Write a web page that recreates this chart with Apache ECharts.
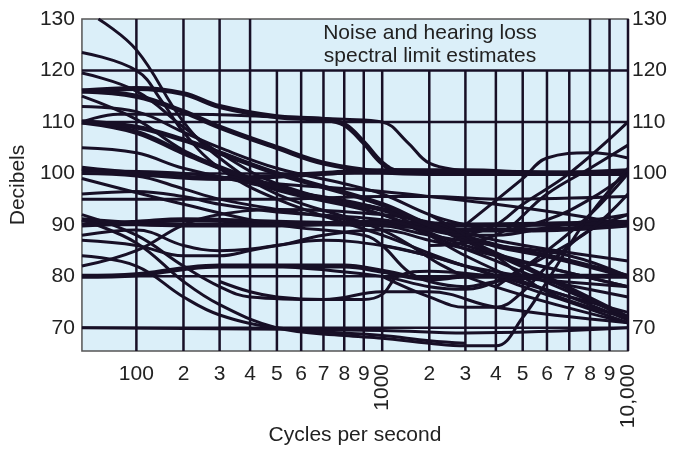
<!DOCTYPE html>
<html>
<head>
<meta charset="utf-8">
<script src="https://cdn.jsdelivr.net/npm/echarts@6/dist/echarts.min.js"></script>
<style>
  html, body { margin: 0; padding: 0; background: #fff; }
  #main { width: 679px; height: 451px; }
</style>
</head>
<body>
<div id="main"></div>
<script>
// tick frequencies along the bottom and their labels
var tickFreqs = [100, 200, 300, 400, 500, 600, 700, 800, 900, 2000, 3000, 4000, 5000, 6000, 7000, 8000, 9000];
var tickText = ['100', '2', '3', '4', '5', '6', '7', '8', '9', '2', '3', '4', '5', '6', '7', '8', '9'];
var bigFreqs = [1000, 10000];
var bigText = ['1000', '10,000'];
var dbTicks = [70, 80, 90, 100, 110, 120, 130];
// vertical grid lines that reach the top (the others stop under the title box)
var fullGridFreqs = [100, 200, 300, 400, 8000, 9000, 10000];
var shortGridFreqs = [500, 600, 700, 800, 900, 1000, 2000, 3000, 4000, 5000, 6000, 7000];
var hGridDb = [70, 80, 90, 100, 110, 120];

// curves, [frequency, decibels]
var c01 = [[80, 130], [100, 124], [200, 110], [300, 103], [500, 96], [1000, 89], [3000, 80], [10000, 71]];
var c02 = [[72, 123.5], [100, 120], [150, 114], [200, 108], [300, 101], [500, 95], [1000, 88], [3000, 82], [10000, 73]];
var c03 = [[72, 119.5], [100, 116], [200, 109], [300, 104], [500, 98], [1000, 92], [2000, 88], [4000, 83], [10000, 72]];
var c04 = [[72, 116], [100, 116.5], [200, 115.5], [300, 113], [500, 111], [700, 110.5], [800, 109.5], [900, 106], [1000, 102], [1300, 100.5], [3000, 100.3], [10000, 100]];
var c05 = [[72, 116], [100, 115], [200, 112], [300, 109], [500, 105], [700, 102], [1000, 100.3], [2000, 100], [10000, 100]];
var c06 = [[72, 115], [100, 110.5], [200, 104.5], [450, 97.5], [1000, 92], [3000, 86], [10000, 78]];
var c07 = [[72, 110], [90, 111.5], [200, 111.5], [500, 111], [800, 110.5], [1000, 110], [1500, 106], [2000, 102], [3000, 100.5]];
var c08 = [[72, 100], [100, 99.5], [200, 97], [300, 95], [500, 93], [1000, 90], [2000, 88], [4000, 86], [7000, 84], [10000, 80]];
var c09 = [[72, 100.5], [200, 100], [500, 98], [1000, 96.5], [2000, 95.5], [4000, 94], [7000, 92], [10000, 90]];
var c10 = [[72, 101], [100, 100], [300, 99], [700, 100], [1000, 100.5], [3000, 100.5], [6000, 100], [10000, 100.5]];
var c11 = [[72, 90], [100, 90.5], [200, 91], [500, 90.5], [1000, 90], [2000, 89.5], [3000, 89], [5000, 89], [10000, 90]];
var c12 = [[72, 91], [200, 90], [500, 90], [1000, 90.5], [3000, 90], [10000, 90.5]];
var c13 = [[72, 80], [100, 80.3], [200, 81.5], [300, 82], [500, 82], [800, 82], [1000, 81], [2000, 79.5], [3000, 80], [10000, 80]];
var c14 = [[72, 92], [100, 88], [200, 82], [300, 78], [400, 76], [700, 75.5], [1000, 77], [2000, 77], [4000, 74], [10000, 71]];
var c15 = [[72, 91], [100, 86.5], [200, 79], [300, 74.5], [500, 70], [800, 68.5], [1000, 68], [2000, 67], [3000, 66.5], [4000, 66.5], [5000, 72], [6000, 79], [7000, 86], [8000, 92], [10000, 101]];
var c16 = [[72, 82], [100, 85], [200, 90], [300, 92], [500, 93], [1000, 92], [2000, 90.5], [4000, 87], [10000, 83]];
var c17 = [[72, 88], [100, 89], [200, 86], [300, 85], [500, 86], [700, 88], [1000, 89], [2000, 87], [4000, 84], [10000, 78]];
var c18 = [[72, 87], [100, 86], [200, 84], [300, 84], [400, 85], [500, 86], [700, 87], [1000, 86], [2000, 84], [3000, 82], [5000, 80], [10000, 76]];
var c19 = [[72, 105], [100, 104], [200, 101], [500, 97], [1000, 93], [2000, 88], [3000, 84], [5000, 79], [7000, 76], [10000, 71.5]];
var c20 = [[72, 110], [100, 108], [200, 104], [400, 99], [700, 95], [1000, 93], [2000, 90], [3000, 87], [5000, 82], [10000, 72]];
var c21 = [[72, 110], [100, 109], [200, 106.5], [300, 104], [500, 100], [1000, 94], [2000, 90], [4000, 86], [6000, 84], [10000, 80]];
var c22 = [[72, 95], [200, 95], [500, 95], [1000, 95.5], [2000, 95.5], [4000, 95], [10000, 95.5]];
var c23 = [[72, 96], [100, 96.5], [200, 95.5], [300, 94], [500, 92.5], [1000, 91], [2000, 89], [3000, 88], [4000, 88], [6000, 89.5], [10000, 92]];
var c24 = [[1000, 80], [2000, 76], [3000, 74], [4000, 74], [5000, 77], [6000, 82], [7000, 86], [8000, 89], [10000, 92]];
var c25 = [[500, 82], [1000, 80], [2000, 78], [3000, 77.5], [4000, 79], [6000, 84], [8000, 89], [10000, 96]];
var c26 = [[1000, 86], [2000, 84], [3000, 82], [4000, 80], [5000, 78], [7000, 75], [10000, 71]];
var c27 = [[2000, 92], [3000, 88], [4000, 84], [5000, 80], [6000, 77], [8000, 74], [10000, 72]];
var c28 = [[72, 113], [100, 112], [200, 108], [300, 105], [500, 101], [800, 98], [1000, 96], [2000, 92], [3000, 90], [4000, 89], [6000, 91], [8000, 95], [10000, 100]];
var c29 = [[72, 99], [200, 94], [500, 90], [900, 88], [1000, 86], [1500, 81], [2000, 79], [3000, 78], [4000, 79], [6000, 80], [10000, 80]];
var c30 = [[300, 79], [400, 77], [500, 76], [700, 75.5], [900, 75.5], [1000, 76.5], [1300, 80], [2000, 81], [4000, 80], [10000, 78]];
var c31 = [[3000, 88], [4000, 90], [5000, 94], [7000, 100], [10000, 110]];
var c32 = [[2000, 86], [4000, 88], [6000, 96], [8000, 101], [10000, 105.5]];
var c33 = [[3000, 90], [5000, 99], [6000, 103], [8000, 104], [10000, 103]];
var c34 = [[4000, 78], [6000, 85], [8000, 92], [10000, 100]];
var c35 = [[72, 70], [1000, 69.5], [3000, 69], [10000, 70]];
var c36 = [[72, 84], [100, 82], [200, 76], [300, 72.5], [500, 70], [1000, 68.5], [2000, 67.5], [3000, 67]];

var curves = [c01, c02, c03, c04, c05, c06, c07, c08, c09, c10, c11, c12, c13, c14, c15, c16, c17, c18,
  c19, c20, c21, c22, c23, c24, c25, c26, c27, c28, c29, c30, c31, c32, c33, c34, c35, c36];
var thickCurves = [c04, c05, c10, c11, c12, c13, c20, c21];

// axis scale of the original: each decade the same width, sqrt-spaced inside a decade
function toAxis(f) {
    var d = Math.floor(Math.log10(f) + 1e-9);
    var base = Math.pow(10, d);
    return (d - 2) + (Math.sqrt(f / base) - 1) / (Math.sqrt(10) - 1);
}
var xMin = toAxis(72), xMax = toAxis(10000);
var yMin = 65.5, yMax = 130;

var ink = '#170f26';
var font = 'Liberation Sans, Arial, sans-serif';

function labelFor(freqs, texts) {
    return function(v) {
        for (var i = 0; i < freqs.length; i++) {
            if (Math.abs(toAxis(freqs[i]) - v) < 1e-6) return texts[i];
        }
        return '';
    };
}

var series = [];
fullGridFreqs.forEach(function(f) {
    series.push({ type: 'line', silent: true, symbol: 'none', lineStyle: { color: ink, width: 2.5 },
        data: [[toAxis(f), yMin], [toAxis(f), yMax]] });
});
shortGridFreqs.forEach(function(f) {
    series.push({ type: 'line', silent: true, symbol: 'none', lineStyle: { color: ink, width: 2.5 },
        data: [[toAxis(f), yMin], [toAxis(f), 120]] });
});
hGridDb.forEach(function(v) {
    series.push({ type: 'line', silent: true, symbol: 'none', lineStyle: { color: ink, width: 2.5 },
        data: [[xMin, v], [xMax, v]] });
});
curves.forEach(function(c) {
    series.push({
        type: 'line', silent: true, symbol: 'none', smooth: 0.4,
        lineStyle: { color: ink, width: thickCurves.indexOf(c) >= 0 ? 5 : 3 },
        data: c.map(function(p) { return [toAxis(p[0]), p[1]]; })
    });
});

var chart = echarts.init(document.getElementById('main'));
chart.setOption({
    animation: false,
    grid: { left: 76, right: 51, top: 19, bottom: 97, show: true, backgroundColor: '#dbeff9', borderColor: '#555', borderWidth: 1.5 },
    xAxis: [{
        type: 'value', min: xMin, max: xMax,
        name: 'Cycles per second', nameLocation: 'middle', nameGap: 74,
        nameTextStyle: { fontFamily: font, fontSize: 21, color: '#222' },
        axisLine: { show: false }, axisTick: { show: false }, splitLine: { show: false },
        axisLabel: { customValues: tickFreqs.map(toAxis), formatter: labelFor(tickFreqs, tickText),
            fontFamily: font, fontSize: 21, color: '#222', margin: 13 }
    }, {
        type: 'value', min: xMin, max: xMax, position: 'bottom',
        axisLine: { show: false }, axisTick: { show: false }, splitLine: { show: false },
        axisLabel: { customValues: bigFreqs.map(toAxis), formatter: labelFor(bigFreqs, bigText), rotate: 90,
            fontFamily: font, fontSize: 21, color: '#222', margin: 13 }
    }],
    yAxis: [{
        type: 'value', min: yMin, max: yMax, position: 'left',
        name: 'Decibels', nameLocation: 'middle', nameGap: 44,
        nameTextStyle: { fontFamily: font, fontSize: 21, color: '#222' },
        axisLine: { show: false }, axisTick: { show: false }, splitLine: { show: false },
        axisLabel: { customValues: dbTicks, fontFamily: font, fontSize: 21, color: '#222', margin: 7 }
    }, {
        type: 'value', min: yMin, max: yMax, position: 'right',
        axisLine: { show: false }, axisTick: { show: false }, splitLine: { show: false },
        axisLabel: { customValues: dbTicks, fontFamily: font, fontSize: 21, color: '#222', margin: 4 }
    }],
    graphic: [{
        type: 'text', x: 430, y: 22,
        style: { text: 'Noise and hearing loss\nspectral limit estimates', textAlign: 'center',
            font: '21px ' + font, fill: '#222', lineHeight: 23 }
    }],
    series: series
});
</script>
</body>
</html>
